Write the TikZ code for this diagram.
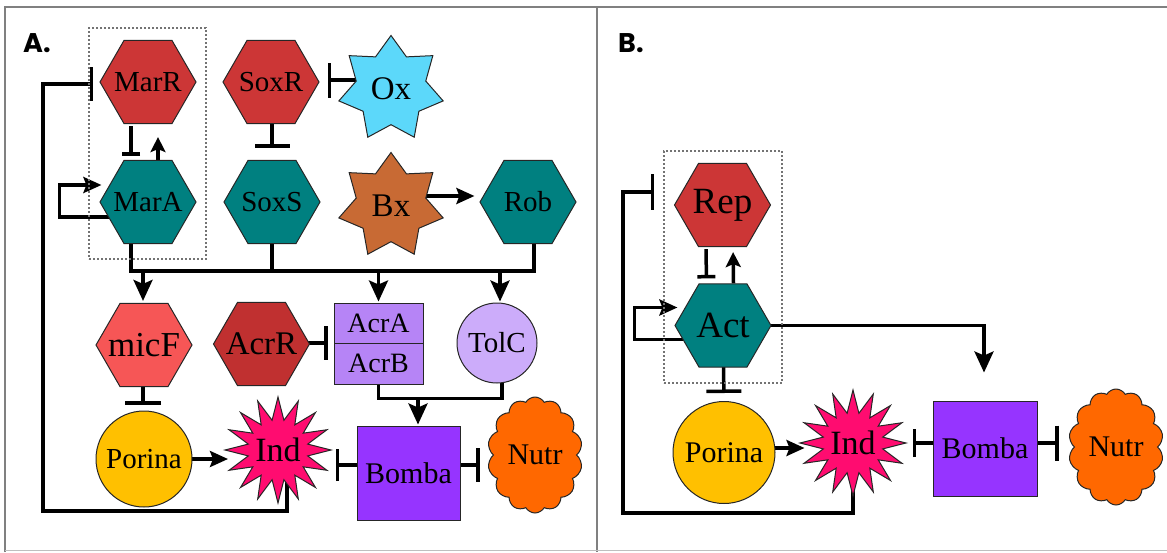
\documentclass[tikz,border=0pt]{standalone}
\usepackage{fontspec}
\setmainfont{Liberation Serif}
\newfontfamily\lblfont{Poppins}
\usetikzlibrary{shapes.geometric,shapes.symbols,arrows.meta,calc,backgrounds}
\newcommand\myfs[1]{\fontsize{#1}{#1}\selectfont}
\definecolor{hexred}{RGB}{204,54,54}
\definecolor{hexteal}{RGB}{0,128,128}
\definecolor{micfc}{RGB}{246,86,86}
\definecolor{acrrc}{RGB}{192,48,48}
\definecolor{oxc}{RGB}{92,216,250}
\definecolor{bxc}{RGB}{200,106,52}
\definecolor{acrc}{RGB}{182,132,246}
\definecolor{tolcc}{RGB}{204,172,250}
\definecolor{porc}{RGB}{255,192,0}
\definecolor{indc}{RGB}{255,12,112}
\definecolor{bombc}{RGB}{150,52,255}
\definecolor{nutrc}{RGB}{255,104,0}
\definecolor{framec}{RGB}{128,128,128}
\tikzset{
  mybase/.style={draw=black!85, line width=1pt, inner sep=0pt, font=\myfs{29}},
  myhex/.style={mybase, regular polygon, regular polygon sides=6, minimum size=96pt},
  hexr/.style={myhex, fill=hexred},
  hext/.style={myhex, fill=hexteal},
  mybox/.style={mybase, rectangle},
  mycirc/.style={mybase, circle},
  mystar/.style={mybase, star, star points=7, star point ratio=1.5, minimum size=107pt},
  indstar/.style={mybase, star, star points=16, star point ratio=1.75, minimum size=106pt, fill=indc},
  cloudn/.style={mybase, cloud, cloud puffs=14, cloud puff arc=120, aspect=0.82, minimum width=95pt, minimum height=116pt, fill=nutrc},
  lnk/.style={line width=3.5pt, draw=black},
  act/.style={lnk, -{Stealth[length=21pt,width=19pt,inset=4pt]}},
  actM/.style={lnk, -{Stealth[length=18pt,width=16pt,inset=3pt]}},
  actS/.style={lnk, -{Stealth[length=15pt,width=15pt,inset=3pt]}},
  inh/.style={lnk, -{Bar[width=#1, line width=3.5pt]}},
  dotbox/.style={draw=black!55, line width=2pt, dash pattern=on 2pt off 2pt, inner sep=0pt, rectangle},
  panlbl/.style={font=\lblfont\bfseries\myfs{27}, anchor=base west, inner sep=0pt},
}
\begin{document}
\begin{tikzpicture}[x=1pt,y=-1pt]
\useasboundingbox (0,0) rectangle (1167,552);
% frame
\draw[framec, line width=2pt] (5,552) -- (5,7) -- (1167,7);
\draw[framec, line width=2pt] (597,7) -- (597,552);
\draw[black!25, line width=1pt] (5,550.5) -- (1167,550.5);

% ---------------- Panel A ----------------
\node[panlbl] (labA) at (23,52) {A.};
\node[dotbox, minimum width=117pt, minimum height=231pt] (grpA) at (147.5,143.5) {};
\node[hexr, label={[font=\myfs{29}]center:MarR}] (marr) at (148,82) {};
\node[hext, label={[font=\myfs{29}]center:MarA}] (mara) at (148,202) {};
\node[hexr, label={[font=\myfs{29}]center:SoxR}] (soxr) at (271,82) {};
\node[hext, label={[font=\myfs{29}]center:SoxS}] (soxs) at (272,202) {};
\node[hext, label={[font=\myfs{29}]center:Rob}] (rob) at (528,202) {};
\node[mystar, fill=oxc, label={[font=\myfs{33}]center:Ox}] (ox) at (391,89) {};
\node[mystar, fill=bxc, label={[font=\myfs{33}]center:Bx}] (bx) at (391,206) {};
\node[myhex, fill=micfc, label={[font=\myfs{35}]center:micF}] (micf) at (144,345) {};
\node[myhex, fill=acrrc, label={[font=\myfs{33}]center:AcrR}] (acrr) at (261.5,344) {};
\node[mybox, fill=acrc, minimum width=89pt, minimum height=40.5pt, font=\myfs{28}] (acra) at (378.5,323.25) {AcrA};
\node[mybox, fill=acrc, minimum width=89pt, minimum height=40.5pt, font=\myfs{28}] (acrb) at (378.5,363.75) {AcrB};
\node[mycirc, fill=tolcc, minimum size=80pt] (tolc) at (497,343) {TolC};
\node[mycirc, fill=porc, minimum size=96pt] (porA) at (144,459) {Porina};
\node[indstar, label={[font=\myfs{34}]center:Ind}] (indA) at (278,450) {};
\node[mybox, fill=bombc, minimum width=103pt, minimum height=94pt, font=\myfs{30}] (bombA) at (408.5,473) {Bomba};
\node[cloudn, label={[font=\myfs{30}]center:Nutr}] (nutrA) at (535,455) {};

% ---------------- Panel B ----------------
\node[panlbl] (labB) at (618,52) {B.};
\node[dotbox, minimum width=118pt, minimum height=232pt] (grpB) at (723,267) {};
\node[hexr, label={[font=\myfs{37}]center:Rep}] (rep) at (722.5,205) {};
\node[hext, label={[font=\myfs{37}]center:Act}] (act) at (723,325.5) {};
\node[mycirc, fill=porc, minimum size=102pt, font=\myfs{30}] (porB) at (724,452.5) {Porina};
\node[indstar, label={[font=\myfs{34}]center:Ind}] (indB) at (853,443) {};
\node[mybox, fill=bombc, minimum width=104pt, minimum height=95pt, font=\myfs{30}] (bombB) at (985,448.5) {Bomba};
\node[cloudn, label={[font=\myfs{30}]center:Nutr}] (nutrB) at (1116,447) {};

\begin{pgfonlayer}{background}
% ---- Panel A connectors ----
\draw[inh=34pt, shorten >=6pt] ($(indA.center)+(9,0)$) |- (43,511) |- (marr.west |- 0,84);
\draw[inh=18pt, shorten <=2pt, shorten >=4pt] ([xshift=-17pt]marr.south) -- ([xshift=-17pt]mara.north);
\draw[actS, shorten >=13pt] ([xshift=10pt]mara.north) -- ([xshift=10pt]marr.south);
\draw[actM] ($(mara.center)+(0,15)$) -- ($(mara.west)+(-40,15)$) |- ($(mara.west)+(2,-17)$);
\draw[inh=35pt, shorten >=12pt] ([xshift=1pt]soxr.south) -- (soxs.north);
\draw[inh=35pt, shorten >=8pt] (ox.center |- 0,80) -- (soxr.east |- 0,80);
\draw[actM, shorten >=5pt] (bx.center |- 0,196) -- (rob.west |- 0,196);
\draw[lnk] ([xshift=-17pt]mara.south) |- (534,271) -- ([xshift=6pt]rob.south);
\draw[lnk] (soxs.south) -- (soxs.south |- 0,271);
\draw[act, shorten >=2pt] (143,271) -- ([xshift=-1pt]micf.north);
\draw[act, shorten >=1pt] (acra.north |- 0,271) -- (acra.north);
\draw[act, shorten >=1pt] (500,271) -- ([xshift=3pt]tolc.north);
\draw[inh=34pt, shorten >=6pt] (acrr.center |- 0,343) -- (acra.west |- 0,343);
\draw[inh=36pt, shorten >=6pt] ([xshift=-1pt]micf.south) -- ([xshift=-1pt]porA.north);
\draw[actM] (porA.center |- 0,459) -- (228,459);
\draw[inh=32pt] ($(bombA.center)+(0,-8)$) -- ($(bombA.west)+(-21,-8)$);
\draw[inh=34pt] ($(bombA.center)+(0,-8)$) -- ($(bombA.east)+(19,-8)$);
\draw[lnk] (acrb.center) -- ++(0,34.5) -| ([xshift=5pt]tolc.center);
\draw[act, shorten >=1pt] (418,398) -- ([xshift=9.5pt]bombA.north);

% ---- Panel B connectors ----
\draw[inh=36pt, shorten >=19.5pt] (indB.center) |- (623,513) |- (rep.west |- 0,192);
\draw[inh=18pt, shorten <=2pt, shorten >=5pt] ([xshift=-16.5pt]rep.south) -- ([xshift=-16.5pt]act.north);
\draw[actS, shorten >=5pt] ([xshift=10.5pt]act.north) -- ([xshift=10.5pt]rep.south);
\draw[actM] ($(act.center)+(0,14)$) -- ($(act.west)+(-40,14)$) |- ($(act.west)+(3,-18)$);
\draw[inh=35pt, shorten >=8pt] (act.center) -- (porB.north);
\draw[actM] ($(porB.center)+(0,-4.5)$) -- ($(porB.east)+(29,-4.5)$);
\draw[act, shorten >=28pt] (act.center) -| ([xshift=-1pt]bombB.north);
\draw[inh=28pt] ($(bombB.center)+(0,-5.5)$) -- ($(bombB.west)+(-20,-5.5)$);
\draw[inh=35pt] ($(bombB.center)+(0,-5.5)$) -- ($(bombB.east)+(21,-5.5)$);
\end{pgfonlayer}
\end{tikzpicture}
\end{document}
